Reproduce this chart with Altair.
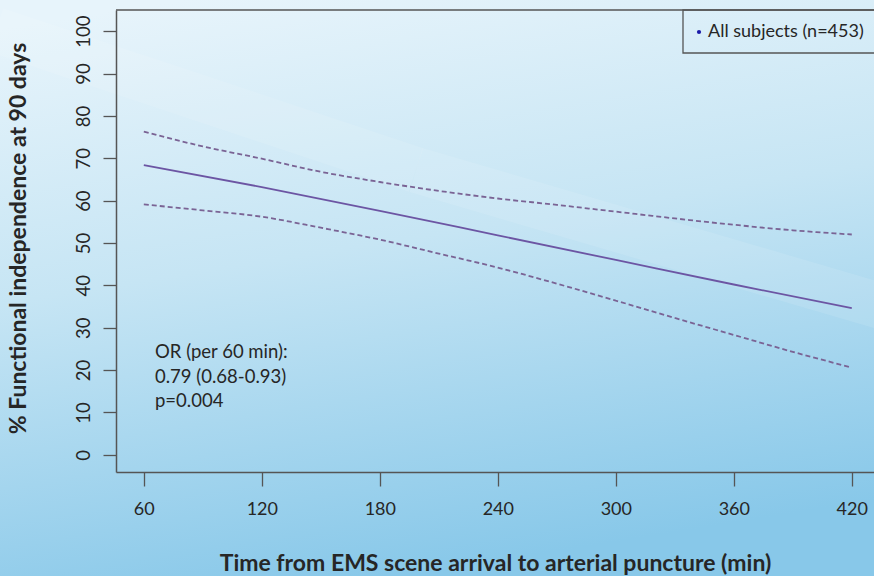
import altair as alt
import pandas as pd

# Fitted probability of functional independence (logistic model) and its 95% band
minutes_fit = [60, 120, 180, 240, 300, 360, 420]
pct_fit = [68.4, 63.2, 57.6, 51.8, 46.0, 40.2, 34.6]

minutes_ci = [60, 90, 120, 150, 180, 210, 240, 270, 300, 330, 360, 390, 420]
pct_upper = [76.3, 72.8, 69.9, 66.8, 64.4, 62.3, 60.5, 59.0, 57.4, 55.8, 54.3, 53.0, 52.0]
pct_lower = [59.1, 57.7, 56.2, 53.6, 50.8, 47.5, 44.2, 40.4, 36.4, 32.3, 28.3, 24.3, 20.6]

x_ticks = [60, 120, 180, 240, 300, 360, 420]
y_ticks = [0, 10, 20, 30, 40, 50, 60, 70, 80, 90, 100]

legend_label = "All subjects (n=453)"
stats_lines = ["OR (per 60 min):", "0.79 (0.68-0.93)", "p=0.004"]

W, H = 758, 462
FONT = "Lato"
TEXT = "#262626"
AXIS = "#555555"
FIT_COLOR = "#6c55a3"
CI_COLOR = "#7a6394"

fit_df = pd.DataFrame({"minutes": minutes_fit, "pct": pct_fit})
ci_df = pd.concat(
    [
        pd.DataFrame({"minutes": minutes_ci, "pct": pct_upper, "bound": "upper"}),
        pd.DataFrame({"minutes": minutes_ci, "pct": pct_lower, "bound": "lower"}),
    ],
    ignore_index=True,
)

x_scale = alt.Scale(domain=[45.86, 431.3], nice=False, zero=False)
y_scale = alt.Scale(domain=[-4.06, 105.0], nice=False, zero=False)

x_axis = alt.Axis(
    values=x_ticks,
    title="Time from EMS scene arrival to arterial puncture (min)",
    grid=False, zindex=2,
    tickSize=14, tickColor=AXIS, tickWidth=1.3,
    domainColor=AXIS, domainWidth=1.5,
    labelFont=FONT, labelFontSize=18, labelColor=TEXT, labelPadding=14,
    labelFlush=False,
    titleFont=FONT, titleFontSize=23, titleFontWeight="bold", titleColor=TEXT,
    titleY=98, titleBaseline="alphabetic",
)
y_axis = alt.Axis(
    values=y_ticks,
    title="% Functional independence at 90 days",
    grid=False, zindex=2,
    tickSize=13, tickColor=AXIS, tickWidth=1.3,
    domainColor=AXIS, domainWidth=1.5,
    labelFont=FONT, labelFontSize=18.5, labelColor=TEXT,
    labelAngle=270, labelAlign="center", labelBaseline="bottom", labelPadding=10,
    labelFlush=False,
    titleFont=FONT, titleFontSize=23, titleFontWeight="bold", titleColor=TEXT,
    titleAngle=270, titleX=-91, titleY=228, titleAlign="center", titleBaseline="alphabetic",
)

one = pd.DataFrame({"k": [0]})

# Slide-style blue gradient behind everything
background = alt.Chart(one).mark_rect(
    fill={
        "gradient": "linear",
        "x1": 0.2, "y1": 0, "x2": 0.45, "y2": 1,
        "stops": [
            {"offset": 0.0, "color": "#e7f4fb"},
            {"offset": 0.45, "color": "#c6e5f4"},
            {"offset": 1.0, "color": "#88c8e9"},
        ],
    },
    strokeWidth=0,
).encode(x=alt.value(-116), x2=alt.value(W + 20), y=alt.value(-10), y2=alt.value(H + 104))

# Faint light swooshes across the backdrop
swoosh_a = alt.Chart(one).mark_rule(color="white", strokeWidth=46, opacity=0.1).encode(
    x=alt.value(-120), y=alt.value(20), x2=alt.value(300), y2=alt.value(160)
)
swoosh_b = alt.Chart(one).mark_rule(color="white", strokeWidth=46, opacity=0.1).encode(
    x=alt.value(300), y=alt.value(160), x2=alt.value(W + 20), y2=alt.value(300)
)

# Top border of the plot box
top_border = alt.Chart(one).mark_rule(color=AXIS, strokeWidth=1.5).encode(
    x=alt.value(0), x2=alt.value(W + 10), y=alt.value(0)
)

ci_lines = alt.Chart(ci_df).mark_line(
    color=CI_COLOR, strokeWidth=1.8, strokeDash=[5, 3], interpolate="monotone"
).encode(
    x=alt.X("minutes:Q", scale=x_scale, axis=x_axis),
    y=alt.Y("pct:Q", scale=y_scale, axis=y_axis),
    detail="bound:N",
)

fit_line = alt.Chart(fit_df).mark_line(
    color=FIT_COLOR, strokeWidth=1.8, interpolate="monotone"
).encode(
    x=alt.X("minutes:Q", scale=x_scale),
    y=alt.Y("pct:Q", scale=y_scale),
)

stats_text = alt.Chart(one).mark_text(
    align="left", baseline="middle", font=FONT, fontSize=18.5, color=TEXT, lineHeight=24.5
).encode(x=alt.value(39), y=alt.value(342), text=alt.value(stats_lines))

# Legend box
legend_box = alt.Chart(one).mark_rect(
    fill="transparent", stroke=AXIS, strokeWidth=1.3
).encode(x=alt.value(567), x2=alt.value(W + 20), y=alt.value(0), y2=alt.value(43))
legend_dot = alt.Chart(one).mark_point(
    shape="circle", filled=True, color="#1a1aa8", size=18, opacity=1
).encode(x=alt.value(583), y=alt.value(22))
legend_text = alt.Chart(one).mark_text(
    align="left", baseline="middle", font=FONT, fontSize=18, color=TEXT
).encode(x=alt.value(592), y=alt.value(22), text=alt.value(legend_label))

chart = alt.layer(
    background, swoosh_a, swoosh_b, ci_lines, fit_line, top_border,
    stats_text, legend_box, legend_dot, legend_text,
).properties(
    width=W, height=H,
    autosize=alt.AutoSizeParams(type="none"),
    padding={"left": 116, "top": 10, "right": 0, "bottom": 104},
    background="#c6e5f4",
).configure_view(stroke=None)

chart.save("out.html", embed_options={"renderer": "svg", "actions": False})
